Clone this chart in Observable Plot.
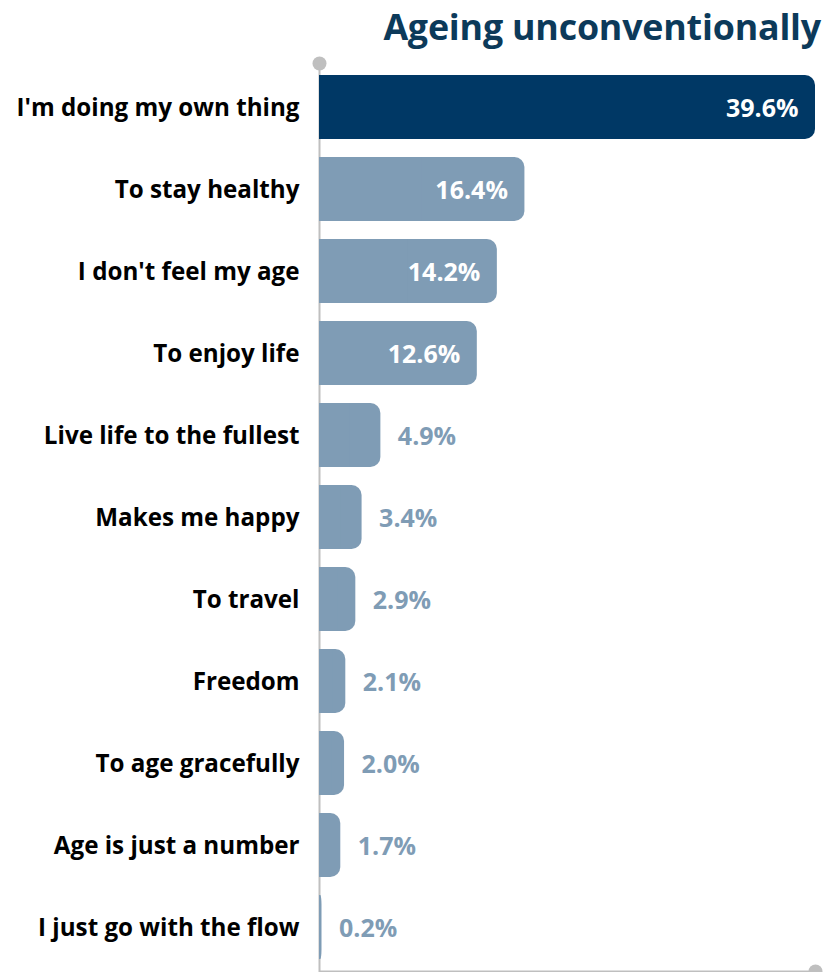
<!DOCTYPE html>
<html>
<head>
<meta charset="utf-8">
<script src="https://cdn.jsdelivr.net/npm/d3@7"></script>
<script src="https://cdn.jsdelivr.net/npm/@observablehq/plot@0.6"></script>
<style>
  html, body { margin: 0; padding: 0; background: #fff; }
  #title {
    height: 56px; line-height: 52px; text-align: right; padding-right: 8px;
    font-family: "Open Sans", sans-serif; font-weight: 700; font-size: 35.8px; color: #0c3a5a;
    letter-spacing: -0.2px;
  }
  #chart svg { display: block; }
</style>
</head>
<body>
<div id="title">Ageing unconventionally</div>
<div id="chart"></div>
<script>
const categories = [
  "I'm doing my own thing", "To stay healthy", "I don't feel my age", "To enjoy life",
  "Live life to the fullest", "Makes me happy", "To travel", "Freedom",
  "To age gracefully", "Age is just a number", "I just go with the flow"
];
const values = [39.6, 16.4, 14.2, 12.6, 4.9, 3.4, 2.9, 2.1, 2.0, 1.7, 0.2];
const highlight = "I'm doing my own thing";

const data = categories.map((c, i) => ({cat: c, value: values[i]}));
const maxV = d3.max(values);

const W = 829, H = 916, mL = 319, mR = 14, mT = 7, mB = 1;
const fw = W - mL - mR, fh = H - mT - mB;
const dark = "#003865", light = "#7f9cb5", grey = "#bfbfbf";
const colorOf = d => d.cat === highlight ? dark : light;

const chart = Plot.plot({
  width: W, height: H,
  marginLeft: mL, marginRight: mR, marginTop: mT, marginBottom: mB,
  style: {fontFamily: "Open Sans, sans-serif", background: "white"},
  x: {domain: [0, maxV], axis: null},
  y: {domain: categories, padding: 0, axis: null},
  marks: [
    Plot.frame({stroke: grey, strokeWidth: 2, fill: "none", strokeDasharray: `0 ${fw + fh} ${fw + fh}`}),
    Plot.barX(data, {y: "cat", x: "value", fill: colorOf, insetTop: 9, insetBottom: 9, rx: 10}),
    Plot.barX(data, {y: "cat", x1: 0, x2: d => d.value / 2, fill: colorOf, insetTop: 9, insetBottom: 9}),
    Plot.dot([0], {x: d => d, frameAnchor: "top", r: 7, fill: grey}),
    Plot.dot([maxV], {x: d => d, frameAnchor: "bottom", r: 7, fill: grey}),
    Plot.text(data, {y: "cat", text: "cat", frameAnchor: "left", dx: -20, dy: 1, textAnchor: "end",
      fill: "black", fontWeight: 700, fontSize: 24.2}),
    Plot.text(data.filter(d => d.value >= 10), {y: "cat", x: "value", text: d => d.value.toFixed(1) + "%",
      dx: -17, dy: 1, textAnchor: "end", fill: "white", fontWeight: 700, fontSize: 25}),
    Plot.text(data.filter(d => d.value < 10), {y: "cat", x: "value", text: d => d.value.toFixed(1) + "%",
      dx: 17, dy: 1, textAnchor: "start", fill: light, fontWeight: 700, fontSize: 25})
  ]
});
document.getElementById("chart").appendChild(chart);
</script>
</body>
</html>
